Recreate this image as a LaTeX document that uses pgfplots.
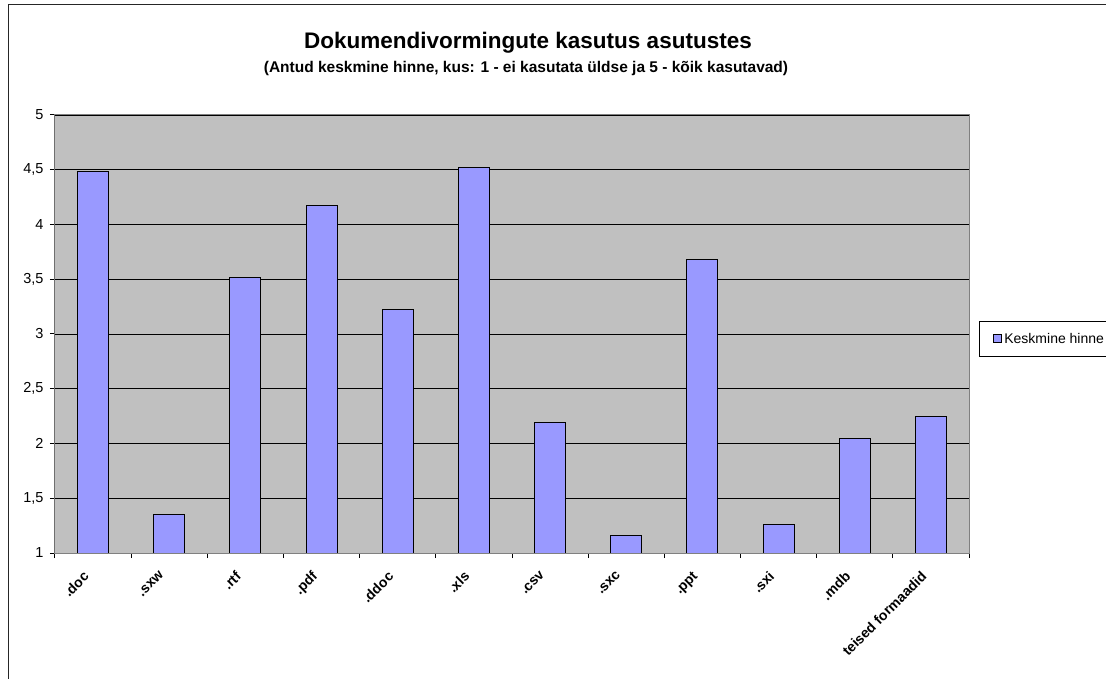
\documentclass[border=0pt]{standalone}
\usepackage{fontspec}
\setmainfont{Liberation Sans}
\usepackage{pgfplots}
\pgfplotsset{compat=1.18}
\definecolor{barblue}{HTML}{9999FF}
\definecolor{plotgrey}{HTML}{C0C0C0}
\definecolor{framegrey}{HTML}{808080}

\begin{document}
\begin{tikzpicture}
\path[use as bounding box] (0,0) rectangle (1106bp,679bp);
% chart area border (left and top visible)
\draw[line width=1bp, black!85] (8bp,-5bp) -- (8bp,674bp) -- (1120bp,674bp);
\node[font=\bfseries\fontsize{22.5bp}{26bp}\selectfont, anchor=base] at (528bp,630bp)
  {Dokumendivormingute kasutus asutustes};
\node[font=\bfseries\fontsize{15.5bp}{18bp}\selectfont, anchor=base] at (526bp,606bp)
  {(Antud keskmine hinne, kus: 1 - ei kasutata üldse ja 5 - kõik kasutavad)};
\begin{axis}[
    at={(55bp,126bp)}, anchor=south west,
    scale only axis, width=914bp, height=438bp,
    xmin=-0.5, xmax=11.5, ymin=1, ymax=5,
    ybar, bar width=31bp,
    axis background/.style={fill=plotgrey},
    axis line style={draw=framegrey, line width=1bp},
    ymajorgrids, major grid style={black, line width=0.9bp},
    ytick={1,1.5,...,5},
    xtick={0,...,11},
    minor xtick={-0.5,0.5,...,11.5},
    xticklabels={.doc,.sxw,.rtf,.pdf,.ddoc,.xls,.csv,.sxc,.ppt,.sxi,.mdb,teised formaadid},
    tick align=outside, tick pos=left,
    major tick length=5bp, minor tick length=5bp,
    major x tick style={draw=none},
    minor x tick style={black, line width=1bp},
    major y tick style={black, line width=1bp},
    /pgf/number format/assume math mode=true,
    /pgf/number format/use comma,
    yticklabel style={font=\fontsize{14.5bp}{17bp}\selectfont, xshift=-3bp,
      /pgf/number format/fixed},
    % shifts below act in the rotated frame
    xticklabel style={font=\bfseries\fontsize{14bp}{16bp}\selectfont,
      rotate=45, anchor=north east, inner sep=1bp, xshift=-15bp, yshift=0bp},
    legend style={at={(1.0109,0.4886)}, anchor=west, draw=black, fill=white,
      line width=0.8bp, font=\fontsize{14bp}{16bp}\selectfont,
      inner xsep=14bp, inner ysep=10bp},
    legend image code/.code={
      \draw[fill=barblue, draw=black, line width=1bp] (0bp,-4bp) rectangle (8bp,4bp);},
]
\addplot[fill=barblue, draw=black, line width=1bp] coordinates {
    (0,4.48) (1,1.35) (2,3.52) (3,4.17) (4,3.22) (5,4.52)
    (6,2.19) (7,1.16) (8,3.68) (9,1.26) (10,2.05) (11,2.25)
};
\addlegendentry{Keskmine hinne}
\draw[black, line width=1bp] (rel axis cs:0,1) -- (rel axis cs:0,0) -- (rel axis cs:1,0);
\end{axis}
\end{tikzpicture}
\end{document}
